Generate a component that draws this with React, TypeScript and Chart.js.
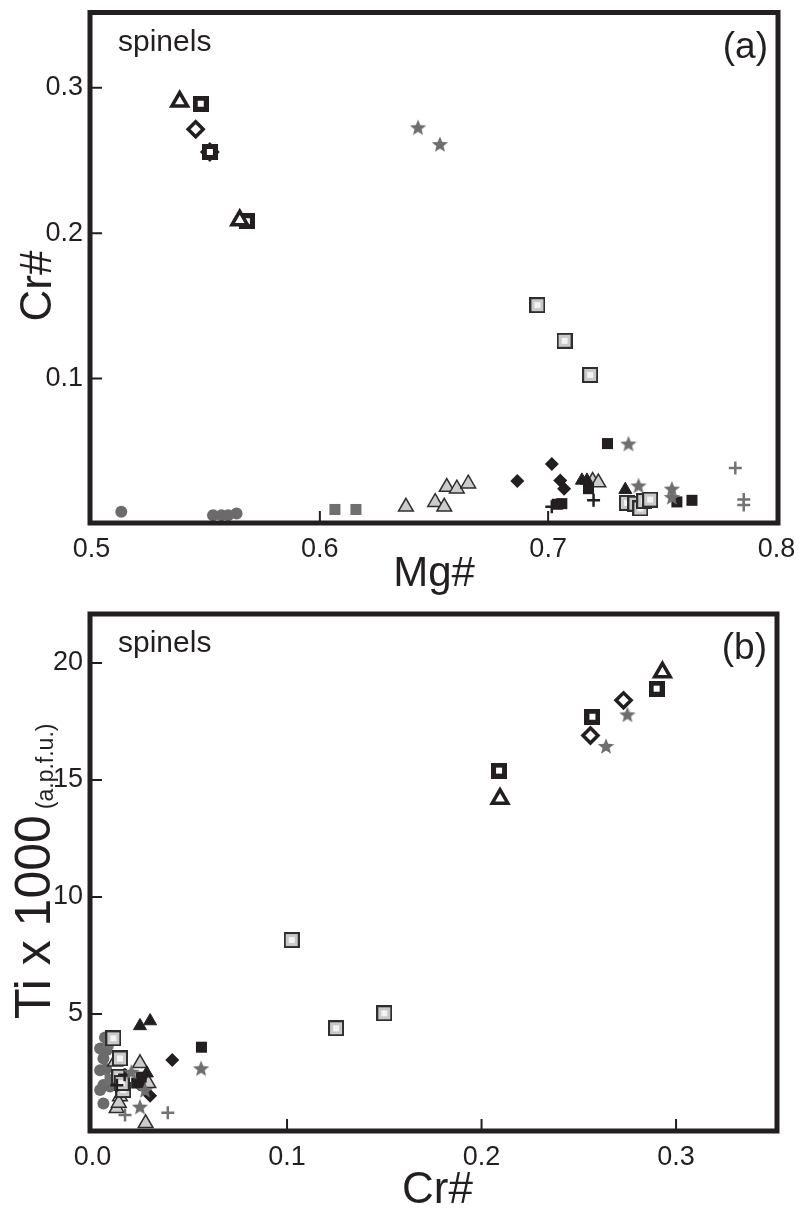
import React, { useEffect, useRef } from 'react';
import { Chart, registerables } from 'chart.js';

Chart.register(...registerables);

// ---------------- Panel (a): Mg# (x) vs Cr# (y) ----------------
const openTriMgA = [0.5386, 0.5649];
const openTriCrA = [0.2905, 0.2088];
const openSqMgA = [0.5478, 0.5518, 0.568];
const openSqCrA = [0.289, 0.2558, 0.2082];
const openDiaMgA = [0.5456, 0.5518];
const openDiaCrA = [0.2714, 0.2558];
const grayStarMgA = [0.643, 0.6526, 0.7352, 0.7396, 0.7542, 0.7542];
const grayStarCrA = [0.2728, 0.2612, 0.0553, 0.0265, 0.0243, 0.0186];
const lgSqMgA = [0.6953, 0.7072, 0.7184, 0.7345, 0.7382, 0.7404, 0.7421, 0.7447];
const lgSqCrA = [0.1505, 0.126, 0.1025, 0.0145, 0.014, 0.0107, 0.0158, 0.0168];
const lgTriMgA = [0.6377, 0.6505, 0.6545, 0.6556, 0.66, 0.665, 0.7195, 0.722];
const lgTriCrA = [0.0118, 0.015, 0.0118, 0.0254, 0.0243, 0.0277, 0.0295, 0.0285];
const blkTriMgA = [0.7148, 0.717, 0.7338];
const blkTriCrA = [0.03, 0.03, 0.0236];
const blkSqMgA = [0.704, 0.706, 0.7177, 0.726, 0.7564, 0.763];
const blkSqCrA = [0.0136, 0.014, 0.0243, 0.0553, 0.0152, 0.0163];
const blkDiaMgA = [0.6865, 0.7016, 0.7053, 0.707];
const blkDiaCrA = [0.0295, 0.0413, 0.03, 0.0243];
const blkCrossMgA = [0.7016, 0.7199];
const blkCrossCrA = [0.0118, 0.0163];
const grayCrossMgA = [0.782, 0.7857, 0.7857];
const grayCrossCrA = [0.0386, 0.0168, 0.013];
const grayDotMgA = [0.513, 0.5532, 0.5569, 0.5598, 0.5635];
const grayDotCrA = [0.0084, 0.006, 0.006, 0.006, 0.0073];
const graySqMgA = [0.6066, 0.6158];
const graySqCrA = [0.01, 0.01];

// ---------------- Panel (b): Cr# (x) vs Ti x 1000 (y) ----------------
const openTriCrB = [0.293, 0.2095];
const openTriTi = [19.6, 14.2];
const openSqCrB = [0.29, 0.257, 0.209];
const openSqTi = [18.9, 17.7, 15.4];
const openDiaCrB = [0.273, 0.256];
const openDiaTi = [18.4, 16.9];
const grayStarCrB = [0.275, 0.264, 0.0558, 0.02, 0.027, 0.0244];
const grayStarTi = [17.8, 16.45, 2.68, 2.53, 1.75, 1.04];
const lgSqCrB = [0.1024, 0.1252, 0.15, 0.0107, 0.0141, 0.0138, 0.0158, 0.015];
const lgSqTi = [8.16, 4.39, 5.03, 3.96, 3.1, 2.32, 1.75, 2.05];
const lgTriCrB = [0.0116, 0.0244, 0.0287, 0.0141, 0.0124, 0.0273, 0.0135];
const lgTriTi = [2.96, 2.89, 2.04, 1.47, 0.97, 0.33, 1.2];
const blkTriCrB = [0.0244, 0.0296, 0.0279];
const blkTriTi = [4.49, 4.7, 2.47];
const blkSqCrB = [0.056, 0.0227, 0.025];
const blkSqTi = [3.58, 2.05, 2.3];
const blkDiaCrB = [0.041, 0.0296, 0.024];
const blkDiaTi = [3.03, 1.51, 2.0];
const blkCrossCrB = [0.0125, 0.0165];
const blkCrossTi = [1.95, 2.4];
const grayCrossCrB = [0.0387, 0.0167];
const grayCrossTi = [0.78, 0.68];
const grayDotCrB = [0.0064, 0.0039, 0.0073, 0.0056, 0.0039, 0.007, 0.0056, 0.0039, 0.009, 0.0056];
const grayDotTi = [4.0, 3.53, 3.46, 3.1, 2.6, 2.65, 1.97, 1.75, 1.9, 1.18];
const graySqCrB = [0.008, 0.009];
const graySqTi = [3.75, 2.2];

// ---------------- Axes ----------------
const xTicksA = [0.5, 0.6, 0.7, 0.8];
const xLabelsA = ['0.5', '0.6', '0.7', '0.8'];
const yTicksA = [0.1, 0.2, 0.3];
const yLabelsA = ['0.1', '0.2', '0.3'];
const xTicksB = [0.0, 0.1, 0.2, 0.3];
const xLabelsB = ['0.0', '0.1', '0.2', '0.3'];
const yTicksB = [5, 10, 15, 20];
const yLabelsB = ['5', '10', '15', '20'];

const INK = '#231f20';
const FONT = '"Liberation Sans", Arial, Helvetica, sans-serif';

function pts(xs: number[], ys: number[]) {
  return xs.map((x, i) => ({ x, y: ys[i] }));
}

function makeCanvas(size: number, draw: (ctx: CanvasRenderingContext2D, s: number) => void) {
  const c = document.createElement('canvas');
  c.width = size;
  c.height = size;
  const ctx = c.getContext('2d') as CanvasRenderingContext2D;
  draw(ctx, size);
  return c;
}

function makeImages() {
  const star = makeCanvas(18, (ctx, s) => {
    ctx.beginPath();
    for (let i = 0; i < 10; i++) {
      const r = i % 2 === 0 ? 8.6 : 3.7;
      const a = -Math.PI / 2 + (i * Math.PI) / 5;
      const px = s / 2 + r * Math.cos(a);
      const py = s / 2 + 0.8 + r * Math.sin(a);
      if (i === 0) ctx.moveTo(px, py);
      else ctx.lineTo(px, py);
    }
    ctx.closePath();
    ctx.fillStyle = '#6e6e6e';
    ctx.fill();
  });
  const lgSq = makeCanvas(16, (ctx) => {
    ctx.fillStyle = '#2e2e2e';
    ctx.fillRect(0, 0, 16, 16);
    ctx.fillStyle = '#c9c9c9';
    ctx.fillRect(2, 2, 12, 12);
    ctx.fillStyle = '#f3f3f3';
    ctx.fillRect(5, 5, 6, 6);
  });
  const openSq = makeCanvas(16, (ctx) => {
    ctx.fillStyle = INK;
    ctx.fillRect(0, 0, 16, 16);
    ctx.fillStyle = '#ffffff';
    ctx.fillRect(5, 5, 6, 6);
  });
  return { star, lgSq, openSq };
}

function buildDatasets(imgs: any, which: 'a' | 'b') {
  const A = which === 'a';
  const base = { clip: false as any, showLine: false };
  return [
    { ...base, label: 'open triangle', data: A ? pts(openTriMgA, openTriCrA) : pts(openTriCrB, openTriTi), pointStyle: 'triangle', pointRadius: 9, pointBorderWidth: 3.5, pointBorderColor: INK, pointBackgroundColor: '#ffffff' },
    { ...base, label: 'open square', data: A ? pts(openSqMgA, openSqCrA) : pts(openSqCrB, openSqTi), pointStyle: imgs.openSq, pointRadius: 8 },
    { ...base, label: 'open diamond', data: A ? pts(openDiaMgA, openDiaCrA) : pts(openDiaCrB, openDiaTi), pointStyle: 'rectRot', pointRadius: 7.5, pointBorderWidth: 3.5, pointBorderColor: INK, pointBackgroundColor: '#ffffff' },
    { ...base, label: 'gray star', data: A ? pts(grayStarMgA, grayStarCrA) : pts(grayStarCrB, grayStarTi), pointStyle: imgs.star, pointRadius: 8 },
    { ...base, label: 'black triangle', data: A ? pts(blkTriMgA, blkTriCrA) : pts(blkTriCrB, blkTriTi), pointStyle: 'triangle', pointRadius: 7.5, pointBorderWidth: 1, pointBorderColor: INK, pointBackgroundColor: INK },
    { ...base, label: 'black square', data: A ? pts(blkSqMgA, blkSqCrA) : pts(blkSqCrB, blkSqTi), pointStyle: 'rect', pointRadius: 7.8, pointBorderWidth: 0, pointBackgroundColor: INK },
    { ...base, label: 'black diamond', data: A ? pts(blkDiaMgA, blkDiaCrA) : pts(blkDiaCrB, blkDiaTi), pointStyle: 'rectRot', pointRadius: 7, pointBorderWidth: 0, pointBackgroundColor: INK },
    { ...base, label: 'black cross', data: A ? pts(blkCrossMgA, blkCrossCrA) : pts(blkCrossCrB, blkCrossTi), pointStyle: 'cross', pointRadius: 6.5, pointBorderWidth: 2.5, pointBorderColor: INK },
    { ...base, label: 'gray cross', data: A ? pts(grayCrossMgA, grayCrossCrA) : pts(grayCrossCrB, grayCrossTi), pointStyle: 'cross', pointRadius: 6.5, pointBorderWidth: 2.5, pointBorderColor: '#737373' },
    { ...base, label: 'light gray square', data: A ? pts(lgSqMgA, lgSqCrA) : pts(lgSqCrB, lgSqTi), pointStyle: imgs.lgSq, pointRadius: 8 },
    { ...base, label: 'light gray triangle', data: A ? pts(lgTriMgA, lgTriCrA) : pts(lgTriCrB, lgTriTi), pointStyle: 'triangle', pointRadius: 8.5, pointBorderWidth: 1.5, pointBorderColor: '#2e2e2e', pointBackgroundColor: '#cccccc' },
    { ...base, label: 'gray square', data: A ? pts(graySqMgA, graySqCrA) : pts(graySqCrB, graySqTi), pointStyle: 'rect', pointRadius: 7.8, pointBorderWidth: 0, pointBackgroundColor: '#6f6f6f' },
    { ...base, label: 'gray circle', data: A ? pts(grayDotMgA, grayDotCrA) : pts(grayDotCrB, grayDotTi), pointStyle: 'circle', pointRadius: 6, pointBorderWidth: 0, pointBackgroundColor: '#6b6b6b' },
  ];
}

function zeroPad(s: any) {
  s.paddingTop = 0;
  s.paddingBottom = 0;
  s.paddingLeft = 0;
  s.paddingRight = 0;
}

function xScale(min: number, max: number, ticks: number[], labels: string[], height: number) {
  return {
    type: 'linear',
    position: 'bottom',
    min,
    max,
    grid: { display: false, drawTicks: false },
    border: { display: false },
    afterBuildTicks: (s: any) => {
      s.ticks = ticks.map((v) => ({ value: v }));
    },
    afterFit: (s: any) => {
      s.height = height;
      zeroPad(s);
    },
    ticks: {
      autoSkip: false,
      maxRotation: 0,
      minRotation: 0,
      padding: 10,
      color: INK,
      font: { family: FONT, size: 27 },
      callback: (_v: any, i: number) => labels[i],
    },
  };
}

function yScale(min: number, max: number, ticks: number[], labels: string[]) {
  return {
    type: 'linear',
    position: 'left',
    min,
    max,
    grid: { display: false, drawTicks: false },
    border: { display: false },
    afterBuildTicks: (s: any) => {
      s.ticks = ticks.map((v) => ({ value: v }));
    },
    afterFit: (s: any) => {
      s.width = 90;
      zeroPad(s);
    },
    ticks: {
      autoSkip: false,
      padding: 7,
      color: INK,
      font: { family: FONT, size: 27 },
      callback: (_v: any, i: number) => labels[i],
    },
  };
}

function makeDeco(spec: { id: string; xTicks: number[]; yTicks: number[]; text: (ctx: CanvasRenderingContext2D, ca: any) => void }) {
  return {
    id: spec.id,
    afterDatasetsDraw(chart: any) {
      const { ctx, chartArea: ca, scales } = chart;
      ctx.save();
      ctx.strokeStyle = INK;
      ctx.lineWidth = 2;
      ctx.beginPath();
      spec.xTicks.forEach((v) => {
        const p = scales.x.getPixelForValue(v);
        if (p > ca.left + 5 && p < ca.right - 5) {
          ctx.moveTo(p, ca.bottom);
          ctx.lineTo(p, ca.bottom - 12);
        }
      });
      spec.yTicks.forEach((v) => {
        const p = scales.y.getPixelForValue(v);
        if (p > ca.top + 5 && p < ca.bottom - 5) {
          ctx.moveTo(ca.left, p);
          ctx.lineTo(ca.left + 12, p);
        }
      });
      ctx.stroke();
      ctx.lineWidth = 5;
      ctx.strokeRect(ca.left, ca.top, ca.right - ca.left, ca.bottom - ca.top);
      ctx.fillStyle = INK;
      spec.text(ctx, ca);
      ctx.restore();
    },
  };
}

function rotatedText(ctx: CanvasRenderingContext2D, text: string, x: number, y: number, align: CanvasTextAlign) {
  ctx.save();
  ctx.translate(x, y);
  ctx.rotate(-Math.PI / 2);
  ctx.textAlign = align;
  ctx.textBaseline = 'alphabetic';
  ctx.fillText(text, 0, 0);
  ctx.restore();
}

export default function App() {
  const refA = useRef<HTMLCanvasElement>(null);
  const refB = useRef<HTMLCanvasElement>(null);

  useEffect(() => {
    const imgs = makeImages();

    const decoA = makeDeco({
      id: 'decoA',
      xTicks: xTicksA,
      yTicks: yTicksA,
      text: (ctx, ca) => {
        ctx.textBaseline = 'alphabetic';
        ctx.font = `30px ${FONT}`;
        ctx.textAlign = 'left';
        ctx.fillText('spinels', ca.left + 28, ca.top + 38);
        ctx.font = `37px ${FONT}`;
        ctx.textAlign = 'right';
        ctx.fillText('(a)', ca.right - 10, ca.top + 45);
        ctx.font = `42px ${FONT}`;
        ctx.textAlign = 'center';
        ctx.fillText('Mg#', (ca.left + ca.right) / 2, ca.bottom + 63);
        ctx.font = `44px ${FONT}`;
        rotatedText(ctx, 'Cr#', 51, 286, 'center');
      },
    });

    const decoB = makeDeco({
      id: 'decoB',
      xTicks: xTicksB,
      yTicks: yTicksB,
      text: (ctx, ca) => {
        ctx.textBaseline = 'alphabetic';
        ctx.font = `30px ${FONT}`;
        ctx.textAlign = 'left';
        ctx.fillText('spinels', ca.left + 28, ca.top + 38);
        ctx.font = `37px ${FONT}`;
        ctx.textAlign = 'right';
        ctx.fillText('(b)', ca.right - 10, ca.top + 45);
        ctx.font = `44px ${FONT}`;
        ctx.textAlign = 'center';
        ctx.fillText('Cr#', (ca.left + ca.right) / 2 + 4, ca.bottom + 72);
        ctx.font = `50px ${FONT}`;
        const big = 'Ti x 1000';
        const w = ctx.measureText(big).width;
        const startY = ca.bottom - 112;
        rotatedText(ctx, big, 50, startY, 'left');
        ctx.font = `23px ${FONT}`;
        rotatedText(ctx, '(a.p.f.u.)', 53, startY - w - 6, 'left');
      },
    });

    const chartA = new Chart(refA.current as HTMLCanvasElement, {
      type: 'scatter',
      data: { datasets: buildDatasets(imgs, 'a') as any },
      options: {
        responsive: false,
        animation: false,
        devicePixelRatio: 1,
        layout: { padding: { left: 0, top: 7, right: 28, bottom: 0 } },
        plugins: { legend: { display: false }, tooltip: { enabled: false } },
        scales: {
          x: xScale(0.4993, 0.8007, xTicksA, xLabelsA, 77) as any,
          y: yScale(0.0007, 0.3517, yTicksA, yLabelsA) as any,
        },
      },
      plugins: [decoA as any],
    });

    const chartB = new Chart(refB.current as HTMLCanvasElement, {
      type: 'scatter',
      data: { datasets: buildDatasets(imgs, 'b') as any },
      options: {
        responsive: false,
        animation: false,
        devicePixelRatio: 1,
        layout: { padding: { left: 0, top: 14, right: 29, bottom: 0 } },
        plugins: { legend: { display: false }, tooltip: { enabled: false } },
        scales: {
          x: xScale(-0.0013, 0.3519, xTicksB, xLabelsB, 82) as any,
          y: yScale(0, 22.09, yTicksB, yLabelsB) as any,
        },
      },
      plugins: [decoB as any],
    });

    return () => {
      chartA.destroy();
      chartB.destroy();
    };
  }, []);

  return (
    <div style={{ position: 'absolute', left: 0, top: 0, width: 806, height: 1213, background: '#ffffff' }}>
      <canvas ref={refA} width={806} height={600} style={{ position: 'absolute', left: 0, top: 0, display: 'block' }} />
      <canvas ref={refB} width={806} height={613} style={{ position: 'absolute', left: 0, top: 600, display: 'block' }} />
    </div>
  );
}
